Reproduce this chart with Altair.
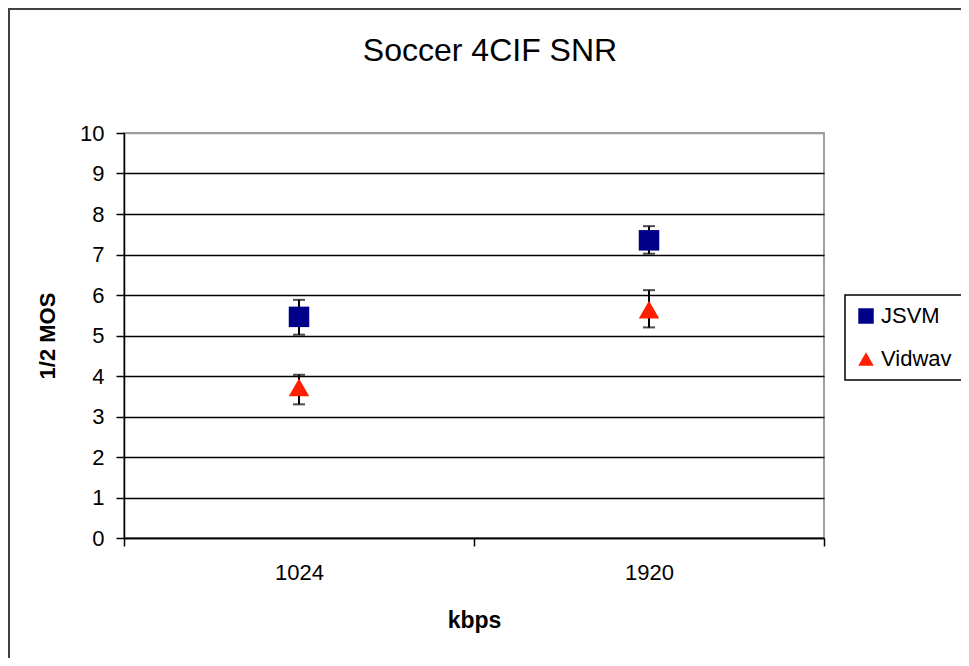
import altair as alt
import pandas as pd

categories = ["1024", "1920"]
series = ["JSVM", "Vidwav"]
jsvm_mean = [5.46, 7.35]
jsvm_low = [5.02, 7.02]
jsvm_high = [5.88, 7.70]
vid_mean = [3.72, 5.64]
vid_low = [3.30, 5.20]
vid_high = [4.03, 6.12]

rows = []
for i, c in enumerate(categories):
    rows.append({"kbps": c, "series": "JSVM", "mos": jsvm_mean[i], "lo": jsvm_low[i], "hi": jsvm_high[i]})
for i, c in enumerate(categories):
    rows.append({"kbps": c, "series": "Vidwav", "mos": vid_mean[i], "lo": vid_low[i], "hi": vid_high[i]})
df = pd.DataFrame(rows)

FONT = "Liberation Sans, Arial, Helvetica, sans-serif"

xenc = alt.X(
    "kbps:N",
    sort=categories,
    scale=alt.Scale(paddingInner=0, paddingOuter=0),
    axis=alt.Axis(
        title="kbps",
        titleFontWeight="bold",
        titleFontSize=23,
        titleFont=FONT,
        titleColor="black",
        titlePadding=26,
        labelFont=FONT,
        labelFontSize=22,
        labelColor="black",
        labelAngle=0,
        labelPadding=16,
        tickBand="extent",
        tickSize=8,
        tickColor="black",
        tickWidth=1.5,
        domainColor="black",
        domainWidth=1.5,
        grid=False,
    ),
)

yscale = alt.Scale(domain=[0, 10], nice=False, zero=True)

base = alt.Chart(df)

rules = base.mark_rule(color="black", strokeWidth=2).encode(
    x=xenc,
    y=alt.Y("lo:Q", scale=yscale),
    y2="hi:Q",
)
caps_hi = base.mark_tick(color="black", size=12, thickness=2).encode(
    x=xenc, y=alt.Y("hi:Q", scale=yscale)
)
caps_lo = base.mark_tick(color="black", size=12, thickness=2).encode(
    x=xenc, y=alt.Y("lo:Q", scale=yscale)
)

points = base.mark_point(filled=True, opacity=1, size=420).encode(
    x=xenc,
    y=alt.Y(
        "mos:Q",
        scale=yscale,
        axis=alt.Axis(
            title="1/2 MOS",
            titleFontWeight="bold",
            titleFontSize=22,
            titleFont=FONT,
            titleColor="black",
            titlePadding=20,
            values=list(range(0, 11)),
            labelFont=FONT,
            labelFontSize=22,
            labelColor="black",
            labelPadding=12,
            tickSize=8,
            tickColor="black",
            tickWidth=1.5,
            domainColor="black",
            domainWidth=1.5,
            grid=True,
            gridColor={"condition": {"test": "datum.value === 10", "value": "#9a9a9a"}, "value": "black"},
            gridWidth=1.5,
        ),
    ),
    color=alt.Color(
        "series:N",
        scale=alt.Scale(domain=series, range=["#000088", "#ff1e00"]),
        legend=alt.Legend(
            title=None,
            orient="none",
            legendX=721,
            legendY=162,
            strokeColor="black",
            fillColor="white",
            padding=10,
            rowPadding=21,
            labelFont=FONT,
            labelFontSize=22,
            labelColor="black",
            labelOffset=4,
            symbolSize=240,
            symbolStrokeWidth=0,
        ),
    ),
    shape=alt.Shape(
        "series:N",
        scale=alt.Scale(domain=series, range=["square", "triangle-up"]),
        legend=None,
    ),
)

border = alt.Chart(pd.DataFrame({"a": [0]})).mark_rect(
    fill=None, stroke="#404040", strokeWidth=2
).encode(
    x=alt.value(-115), x2=alt.value(900), y=alt.value(-124), y2=alt.value(700)
)

chart = alt.layer(border, rules, caps_hi, caps_lo, points).properties(
    width=700,
    height=405,
    title=alt.TitleParams(
        "Soccer 4CIF SNR",
        font=FONT,
        fontSize=32,
        fontWeight="normal",
        color="black",
        anchor="middle",
        dx=16,
        offset=-60,
    ),
    autosize=alt.AutoSizeParams(type="none"),
    padding={"left": 116, "top": 125, "right": 137, "bottom": 120},
).configure_view(
    stroke="#808080", strokeWidth=1.5
).configure_legend(
    strokeWidth=1.5
)

chart.save("out.html", embed_options={"renderer": "svg", "actions": False})
